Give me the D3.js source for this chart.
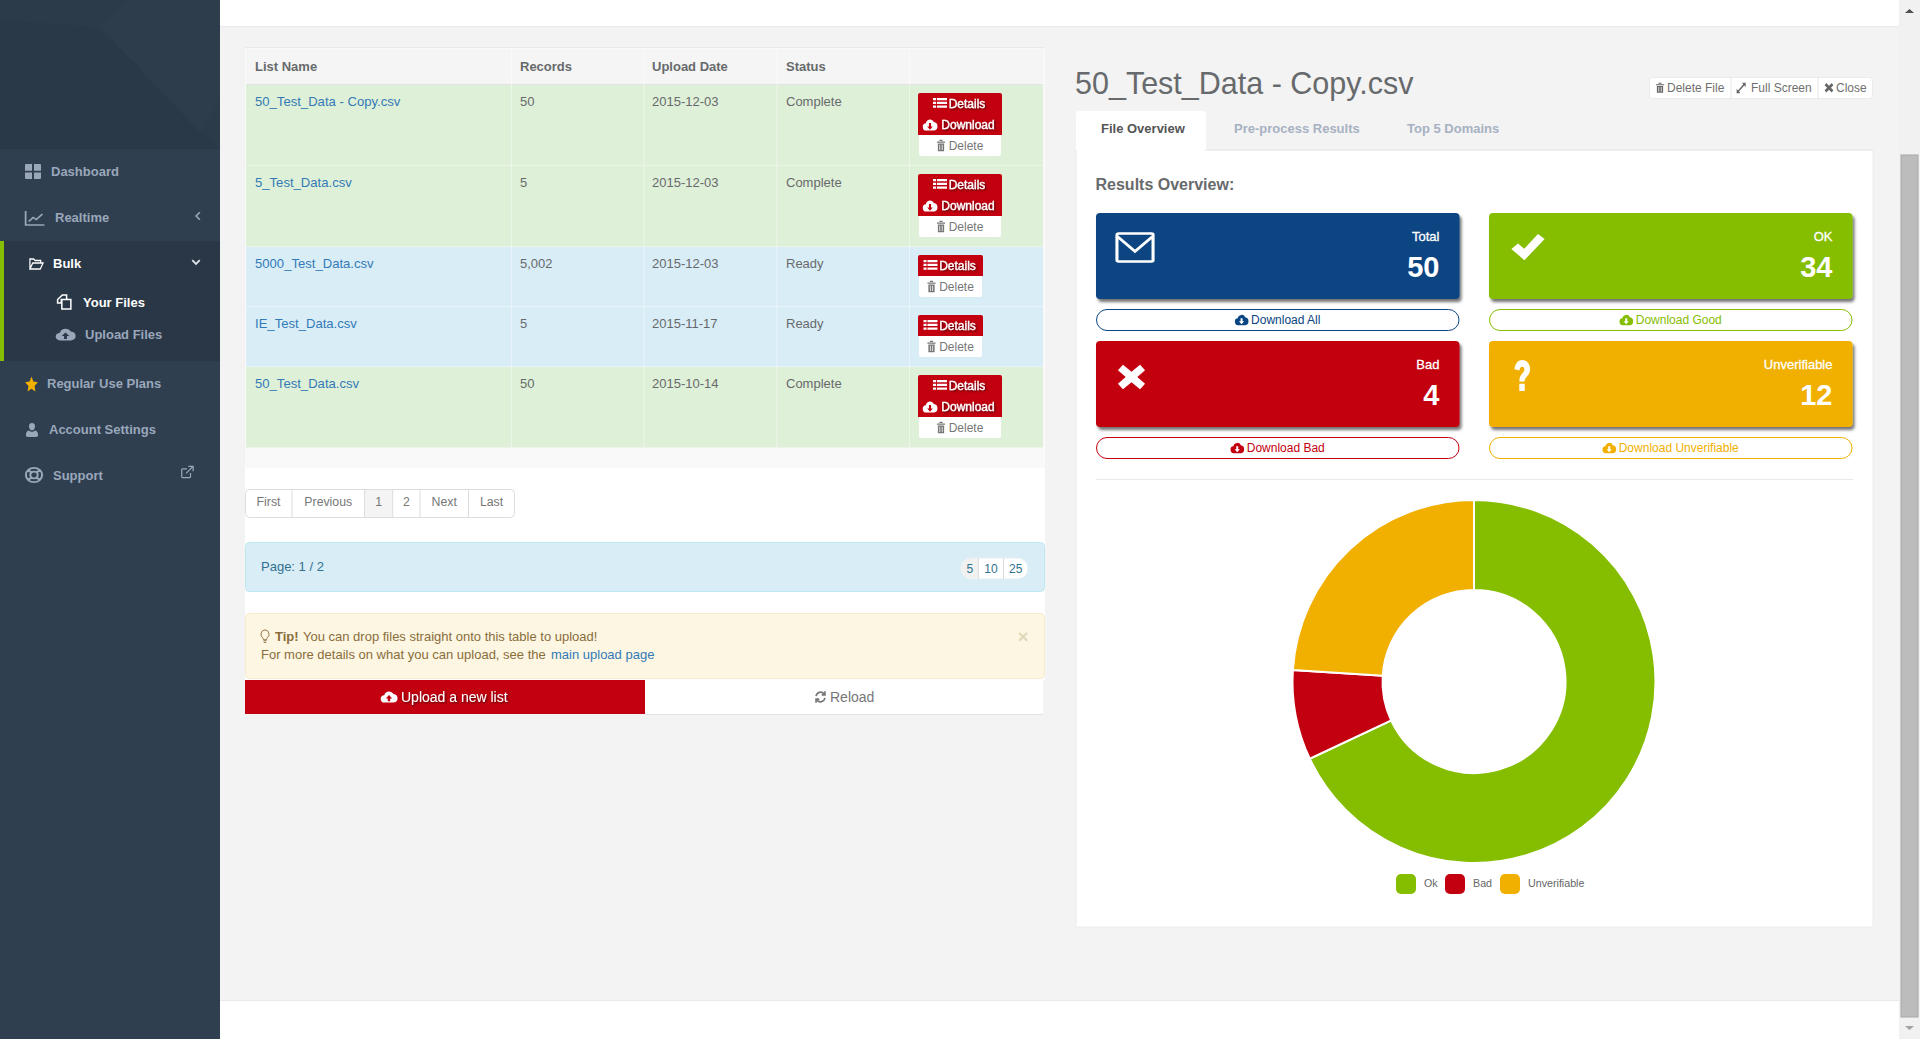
<!DOCTYPE html>
<html>
<head>
<meta charset="utf-8">
<script src="https://cdn.jsdelivr.net/npm/d3@7"></script>
<style>
html,body{margin:0;padding:0;overflow:hidden;background:#f3f3f3}
svg{display:block}
text{font-family:"Liberation Sans",Arial,sans-serif}
</style>
</head>
<body>
<script>
// chart values
const segLabels = ['Ok', 'Bad', 'Unverifiable'];
const segValues = [34, 4, 12];
const segColors = ['#85bd00', '#c3000f', '#f1b000'];

// result cards
const cardLabels = ['Total', 'OK', 'Bad', 'Unverifiable'];
const cardValues = [50, 34, 4, 12];
const cardColors = ['#0a4482', '#85bd00', '#c3000f', '#f1b000'];
const cardIcons = ['envelope', 'check', 'times', 'question'];
const cardButtons = ['Download All', 'Download Good', 'Download Bad', 'Download Unverifiable'];

// file table
const tableHeads = ['List Name', 'Records', 'Upload Date', 'Status', ''];
const fileNames = ['50_Test_Data - Copy.csv', '5_Test_Data.csv', '5000_Test_Data.csv', 'IE_Test_Data.csv', '50_Test_Data.csv'];
const fileRecords = ['50', '5', '5,002', '5', '50'];
const fileDates = ['2015-12-03', '2015-12-03', '2015-12-03', '2015-11-17', '2015-10-14'];
const fileStatus = ['Complete', 'Complete', 'Ready', 'Ready', 'Complete'];

const pageLabels = ['First', 'Previous', '1', '2', 'Next', 'Last'];
const pageSizes = ['5', '10', '25'];
const tabLabels = ['File Overview', 'Pre-process Results', 'Top 5 Domains'];
const toolLabels = ['Delete File', 'Full Screen', 'Close'];

const width = 1920, height = 1039;
const svg = d3.select('body').append('svg').attr('width', width).attr('height', height)
  .attr('viewBox', [0, 0, width, height]);

function rect(x, y, w, h, fill, o) {
  o = o || {};
  return svg.append('rect').attr('x', x).attr('y', y).attr('width', w).attr('height', h)
    .attr('rx', o.r || 0).attr('fill', fill).attr('stroke', o.stroke || 'none')
    .attr('filter', o.filter || null);
}
function text(s, x, y, size, fill, o) {
  o = o || {};
  const t = svg.append('text').attr('x', x).attr('y', y).attr('font-size', size).attr('fill', fill)
    .attr('font-weight', o.weight || 'normal').attr('text-anchor', o.anchor || 'start')
    .attr('filter', o.filter || null).text(s);
  if (o.heavy) t.attr('stroke', fill).attr('stroke-width', o.heavy);
  return t;
}
function hline(x1, x2, y, c) { svg.append('line').attr('x1', x1).attr('x2', x2).attr('y1', y).attr('y2', y).attr('stroke', c); }
function vline(x, y1, y2, c) { svg.append('line').attr('x1', x).attr('x2', x).attr('y1', y1).attr('y2', y2).attr('stroke', c); }

// little icons, all in a 16 unit box
const cloudShape = 'M4 14.5a3.9 3.9 0 0 1-.7-7.8 4.9 4.9 0 0 1 9.2-1.3 4.6 4.6 0 0 1 .2 9.1z';
const glyphs = {
  envelope: {d: 'M1 .8h14a.6.6 0 0 1 .6.6v13.2a.6.6 0 0 1-.6.6H1a.6.6 0 0 1-.6-.6V1.4a.6.6 0 0 1 .6-.6zM.8 2.5l7.2 7.5 7.2-7.5', line: 1.3},
  check: {d: 'M1 9l2.8-2.8 2.6 2.7L12.2 1.5 15 4 6.5 14.6z'},
  times: {d: 'M3.6 1.5L8 5.2l4.4-3.7 2.6 2.9L11 8l4 3.6-2.6 2.9L8 10.8l-4.4 3.7L1 11.6 5 8 1 4.4z'},
  question: {d: 'M3 5C3.4 2 5.6.5 8.2.5c3 0 5.2 1.8 5.2 4.4 0 3.4-3.6 3.6-3.6 6H6.2c0-3.8 3.4-4 3.4-5.8 0-.9-.6-1.4-1.5-1.4-1 0-1.6.7-1.9 1.9zM6.2 12h3.6v3.5H6.2z'},
  grid: {d: 'M0 1.5q0-1 1-1h6v6.7H0zM9 .5h6q1 0 1 1v5.7H9zM0 9h7v6.5H1q-1 0-1-1zM9 9h7v5.5q0 1-1 1H9z'},
  chart: {d: 'M.5 1v14h15M3 11.5l3.5-4 2.5 2 5-5.5', line: 1.4},
  folder: {d: 'M1 13V3h4l1.5 1.5h6V7M1 13h11l3-6H4z', line: 1.3},
  copy: {d: 'M6 1h4v4.5H5V9H1.5V5.5zM5.5 5.5h8.5V15H5.5z', line: 1.4},
  cloudUp: {d: cloudShape + 'M8 6.5L4.8 10H6.8v3H9.2v-3h2z'},
  cloudDown: {d: cloudShape + 'M8 13.5L11.2 10H9.2V6.5H6.8V10H4.8z'},
  star: {d: 'M8 .5l2.3 5 5.5.7-4 3.8 1 5.4L8 12.8 3.2 15.4l1-5.4-4-3.8 5.5-.7z'},
  user: {d: 'M8 1a3.4 3.4 0 0 1 3.4 3.6c0 2-1.4 3.8-3.4 3.8S4.6 6.6 4.6 4.6A3.4 3.4 0 0 1 8 1zM4.6 8.4C5.5 9.3 6.7 9.8 8 9.8s2.5-.5 3.4-1.4C13.8 8.8 15 10.5 15 13c0 1.3-1 2-2.2 2H3.2C2 15 1 14.3 1 13c0-2.5 1.2-4.2 3.6-4.6z'},
  ring: {d: 'M8 .8a7.2 7.2 0 1 0 0 14.4A7.2 7.2 0 1 0 8 .8zM8 4.7a3.3 3.3 0 1 0 0 6.6 3.3 3.3 0 1 0 0-6.6zM3 3l3 3M13 3l-3 3M3 13l3-3M13 13l-3-3', line: 1.8},
  external: {d: 'M12 9v4.5a1 1 0 0 1-1 1H3a1 1 0 0 1-1-1v-8a1 1 0 0 1 1-1h5M7 9.5L14 2.5M9.5 1.5h5.5v5.5', line: 1.4},
  list: {d: 'M0 2h3.5v2.5H0zM4.5 2H16v2.500H4.5zM0 6h3.5v2.500H0zM4.5 6H16v2.5H4.5zM0 10h3.5v2.5H0zM4.5 10H16v2.5H4.5z'},
  trash: {d: 'M1.5 3h13v1.5h-13zM5.5 1h5v1.5h-5zM3 5.5h10V15H3zM5.5 7v6.5h1.2V7zM9.3 7v6.5h1.2V7z'},
  expand: {d: 'M9.5 1H15.5V7L13.3 4.8 4.8 13.3 7 15.5H1V9.5L3.2 11.7 11.7 3.2z'},
  refresh: {d: 'M2.5 7a5.700 5.700 0 0 1 10-2.300M13.5 9a5.700 5.700 0 0 1-10 2.300M13.5 1.5v4h-4M2.5 14.5v-4h4', line: 2},
  bulb: {d: 'M8 1a4.600 4.600 0 0 0-2.600 8.400c.6.5.8 1.300.8 2h3.600c0-.7.2-1.5.8-2A4.600 4.600 0 0 0 8 1zM6.2 12.5h3.6M6.5 14.3h3', line: 1},
  chevL: {d: 'M10.5 3L5.5 8l5 5', line: 2.2},
  chevD: {d: 'M3 5.5l5 5 5-5', line: 2.4}
};
function icon(name, x, y, w, h, color) {
  const g = glyphs[name];
  const p = svg.append('path').attr('d', g.d)
    .attr('transform', `translate(${x},${y}) scale(${w / 16},${h / 16})`);
  if (g.line) p.attr('fill', 'none').attr('stroke', color).attr('stroke-width', g.line);
  else p.attr('fill', color).attr('fill-rule', 'evenodd');
  return p;
}

const defs = svg.append('defs');
const shadow = defs.append('filter').attr('id', 'cardShadow').attr('x', '-5%').attr('y', '-10%').attr('width', '112%').attr('height', '125%');
shadow.append('feDropShadow').attr('dx', 2).attr('dy', 3).attr('stdDeviation', 1.6).attr('flood-color', '#000').attr('flood-opacity', 0.55);
const textGlow = defs.append('filter').attr('id', 'textShadow').attr('x', '-10%').attr('y', '-30%').attr('width', '120%').attr('height', '170%');
textGlow.append('feDropShadow').attr('dx', 1).attr('dy', 1).attr('stdDeviation', 0.8).attr('flood-color', '#000').attr('flood-opacity', 0.65);

// ---- page frame
rect(220, 0, 1680, 26, '#fff');
hline(220, 1900, 26.5, '#e7eaec');
rect(220, 1000, 1680, 39, '#fff');
hline(220, 1900, 1000.5, '#e7eaec');

// scrollbar
rect(1899, 0, 21, 1039, '#f1f1f1');
rect(1901, 155, 17, 862, '#bcbcbc', {stroke: '#a8a8a8'});
svg.append('path').attr('d', 'M1905 13l4.5-4 4.5 4z').attr('fill', '#505050');
svg.append('path').attr('d', 'M1905 1026l4.5 4 4.5-4z').attr('fill', '#a3a3a3');

// ---- sidebar
rect(0, 0, 220, 1039, '#2f3f50');
rect(0, 0, 220, 149, '#2c3b4a');
svg.append('path').attr('d', 'M0 20L97 27L220 149H0z').attr('fill', '#2a3947');
svg.append('path').attr('d', 'M100 27L125 0H220V100L200 132z').attr('fill', '#2d3d4c');
rect(0, 241, 220, 120, '#293746');
rect(0, 241, 4, 120, '#85bd00');

const navMuted = '#9aa7bb';
const sideItems = [
  {t: 'Dashboard', x: 51, y: 176, ic: 'grid', ix: 25, iy: 163.5, iw: 16, c: navMuted},
  {t: 'Realtime', x: 55, y: 222, ic: 'chart', ix: 25, iy: 210, iw: 20, c: navMuted},
  {t: 'Bulk', x: 53, y: 268, ic: 'folder', ix: 29, iy: 256, iw: 15, c: '#fff'},
  {t: 'Your Files', x: 83, y: 307, ic: 'copy', ix: 56, iy: 294, iw: 17, c: '#fff'},
  {t: 'Upload Files', x: 85, y: 339, ic: 'cloudUp', ix: 56, iy: 326, iw: 19, c: navMuted},
  {t: 'Regular Use Plans', x: 47, y: 388, ic: 'star', ix: 25, iy: 376, iw: 13, c: '#f1b000', tc: navMuted},
  {t: 'Account Settings', x: 49, y: 434, ic: 'user', ix: 25, iy: 422, iw: 14, c: navMuted},
  {t: 'Support', x: 53, y: 480, ic: 'ring', ix: 25, iy: 467, iw: 18, c: navMuted}
];
sideItems.forEach(d => {
  icon(d.ic, d.ix, d.iy, d.iw, 16, d.c);
  text(d.t, d.x, d.y, 13, d.tc || d.c, {weight: 'bold'});
});
icon('chevL', 192, 210, 12, 12, navMuted);
icon('chevD', 190, 256, 12, 12, '#dfe4ea');
icon('external', 180, 465, 14, 14, navMuted);

// ---- left column
rect(245, 468, 800, 212, '#fff');
rect(245, 48, 800, 420, '#f9f9f9');
hline(245, 1045, 47.5, '#e7eaec');

const colEdges = [246, 511.5, 644, 777, 909.5, 1043];
const colX = d3.scaleOrdinal().domain(d3.range(4)).range([255, 520, 652, 786]);
rect(246, 49, 797, 35, '#f5f5f5');
hline(246, 1043, 84.5, '#e0e4e6');
tableHeads.forEach((h, i) => {
  if (h) text(h, colX(i), 71, 13, '#676a6c', {weight: 'bold'});
});

let rowTop = 85;
const baseRow = 21;
fileNames.forEach((name, i) => {
  const done = fileStatus[i] === 'Complete';
  const rowH = done ? 81 : 60;
  rect(246, rowTop, 797, rowH - 0.5, done ? '#dff0d8' : '#d9edf7');
  text(name, colX(0), rowTop + baseRow, 13.1, '#337ab7');
  text(fileRecords[i], colX(1), rowTop + baseRow, 13, '#676a6c');
  text(fileDates[i], colX(2), rowTop + baseRow, 13, '#676a6c');
  text(fileStatus[i], colX(3), rowTop + baseRow, 13, '#676a6c');

  // action buttons
  const bw = done ? 84 : 65, bx = 918, by = rowTop + 8, redH = done ? 42 : 21;
  rect(bx + 1, by + redH - 1, bw - 2, 22, '#fff', {r: 2});
  rect(bx, by, bw, redH, '#c3000f', {r: 2});
  rect(bx, by + redH - 4, bw, 4, '#c3000f');
  const cx = bx + bw / 2;
  text('Details', cx + 7, by + 15, 12, '#fff', {anchor: 'middle', heavy: 0.3, filter: 'url(#textShadow)'});
  icon('list', cx - 27, by + 3, 14, 15, '#fff');
  if (done) {
    text('Download', cx + 8, by + 36, 12, '#fff', {anchor: 'middle', heavy: 0.3, filter: 'url(#textShadow)'});
    icon('cloudDown', bx + 5, by + 24, 14, 15, '#fff');
  }
  text('Delete', cx + 6, by + redH + 15, 12, '#777', {anchor: 'middle'});
  icon('trash', cx - 24, by + redH + 4, 10, 13, '#777');
  rowTop += rowH;
});
colEdges.slice(1, 5).forEach(x => vline(x, 49, 447, 'rgba(255,255,255,.45)'));

// pagination
const pageEdges = [245, 292, 364.5, 392.7, 420, 468.5, 514.5];
rect(245.5, 489.5, 269, 28, '#fff', {r: 4, stroke: '#dddddd'});
rect(364.5, 490, 28.2, 27, '#f4f4f4');
pageLabels.forEach((p, i) => {
  if (i) vline(pageEdges[i], 489.5, 517.5, '#dddddd');
  text(p, (pageEdges[i] + pageEdges[i + 1]) / 2, 506, 12.3, '#777', {anchor: 'middle'});
});

// page info
rect(245.5, 542.5, 799, 49, '#d9edf7', {r: 4, stroke: '#bce8f1'});
text('Page: 1 / 2', 261, 571, 13, '#31708f');
const sizeEdges = [961, 978.5, 1003.5, 1028];
rect(961, 558, 67, 21, '#fff', {r: 10, stroke: '#e4eef2'});
svg.append('path').attr('d', 'M971 558.5h7.5v20H971a10 10 0 0 1 0-20z').attr('fill', '#f1f1f1');
pageSizes.forEach((p, i) => {
  if (i) vline(sizeEdges[i], 558, 579, '#dddddd');
  text(p, (sizeEdges[i] + sizeEdges[i + 1]) / 2, 573, 12, '#31708f', {anchor: 'middle'});
});

// tip
rect(245.5, 613.5, 799, 65, '#fcf6e2', {r: 4, stroke: '#f8ebcc'});
icon('bulb', 258, 629, 14, 15, '#8a6d3b');
text('Tip!', 275, 641, 13, '#8a6d3b', {weight: 'bold'});
text('You can drop files straight onto this table to upload!', 303, 641, 13, '#8a6d3b');
text('For more details on what you can upload, see the', 261, 659, 13, '#8a6d3b');
text('main upload page', 551, 659, 13, '#337ab7');
text('×', 1023, 643, 19, '#e0d9bd', {anchor: 'middle', weight: 'bold'});

// upload row
rect(245, 680, 400, 34, '#c3000f');
rect(645, 680, 398, 34, '#fff');
hline(645, 1043, 714.5, '#e3e3e3');
icon('cloudUp', 381, 689, 16, 15, '#fff');
text('Upload a new list', 401, 702, 14, '#fff', {filter: 'url(#textShadow)'});
icon('refresh', 814, 690, 13, 14, '#777');
text('Reload', 830, 702, 14, '#777');

// ---- right column
text('50_Test_Data - Copy.csv', 1075, 94, 30.5, '#676a6c');

const toolEdges = [1649, 1731, 1818, 1873];
const toolIcons = ['trash', 'expand', 'times'];
const toolIconX = [6, 5, 6], toolTextX = [18, 20, 18];
rect(1649.5, 77.5, 223, 21, '#fff', {r: 3, stroke: '#ebebeb'});
toolLabels.forEach((t, i) => {
  if (i) vline(toolEdges[i], 77.5, 98.5, '#e7e7e7');
  icon(toolIcons[i], toolEdges[i] + toolIconX[i], 82, 10, 11.5, '#666');
  text(t, toolEdges[i] + toolTextX[i], 92, 12, '#6f6f6f');
});

// tabs and panel
rect(1076, 150, 797, 777, '#fff', {stroke: '#e9ecee'});
hline(1076, 1873, 150, '#e7eaec');
rect(1076, 111, 130, 40, '#fff', {r: 3});
const tabX = [1101, 1234, 1407];
tabLabels.forEach((t, i) => text(t, tabX[i], 133, 13, i ? '#a7b1c2' : '#555', {weight: 'bold'}));

text('Results Overview:', 1095.5, 190, 16, '#676a6c', {weight: 'bold'});

// cards with download buttons
const cardX = [1096, 1489], cardY = [213, 341], cardW = 363.5, cardH = 86;
const iconBoxes = {envelope: [20, 19, 38, 31], check: [20, 18, 38, 32], times: [20, 21, 31, 30], question: [21, 18, 24, 33]};
cardLabels.forEach((label, i) => {
  const x = cardX[i % 2], y = cardY[i >> 1], c = cardColors[i], right = x + cardW - 20;
  rect(x, y, cardW, cardH, c, {r: 4, filter: 'url(#cardShadow)'});
  text(label, right, y + 28, 13, '#fff', {anchor: 'end', heavy: 0.3});
  text(cardValues[i], right, y + 64, 29, '#fff', {anchor: 'end', weight: 'bold'});
  const ic = iconBoxes[cardIcons[i]];
  icon(cardIcons[i], x + ic[0], y + ic[1], ic[2], ic[3], '#fff');

  rect(x + 0.5, y + cardH + 10.5, cardW - 1, 21, '#fff', {r: 10.5, stroke: c});
  const b = text(cardButtons[i], x + cardW / 2 + 8, y + cardH + 25, 12, c, {anchor: 'middle'});
  const tw = b.node().getComputedTextLength();
  icon('cloudDown', x + cardW / 2 + 8 - tw / 2 - 16, y + cardH + 13.5, 13, 14, c);
});

hline(1096, 1853, 479.5, '#e7eaec');

// donut
const pie = d3.pie().sort(null)(segValues);
const arc = d3.arc().innerRadius(91.5).outerRadius(181.5);
const donut = svg.append('g').attr('transform', 'translate(1474,681.5)');
donut.selectAll('path')
  .data(pie)
  .join('path')
  .attr('d', arc)
  .attr('fill', (d, i) => segColors[i])
  .attr('stroke', '#fff')
  .attr('stroke-width', 2);

// legend
const legendSwatch = [1396, 1445, 1500], legendText = [1424, 1473, 1528];
segLabels.forEach((l, i) => {
  rect(legendSwatch[i], 874, 20, 20, segColors[i], {r: 5});
  text(l, legendText[i], 887, 10.7, '#666');
});
</script>
</body>
</html>
